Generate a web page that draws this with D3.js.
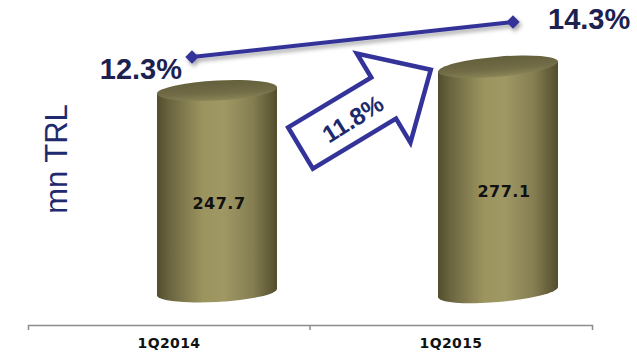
<!DOCTYPE html>
<html>
<head>
<meta charset="utf-8">
<script src="https://cdn.jsdelivr.net/npm/d3@7"></script>
<style>
  html, body { margin: 0; padding: 0; background: #ffffff; }
  svg { display: block; }
</style>
</head>
<body>
<svg id="chart" width="637" height="355"></svg>
<script>
// Quarterly figures
const categories = ["1Q2014", "1Q2015"];
const revenue = [247.7, 277.1];      // mn TRL (cylinders)
const share = [12.3, 14.3];          // % (line, secondary scale)
const growthText = "11.8%";
const axisTitle = "mn TRL";

const svg = d3.select("#chart");
const defs = svg.append("defs");

// ---- scales ----
const xAxisScale = d3.scaleBand().domain(categories).range([28, 592]);
const xBar = d3.scalePoint().domain(categories).range([217, 498]);
const xLine = d3.scalePoint().domain(categories).range([192, 513]);
const y = d3.scaleLinear().domain([0, 300]).range([292, 48]);
const y2 = d3.scaleLinear().domain([12, 15]).range([62.25, 9.75]);

// ---- gradients / filters ----
const sideGrad = defs.append("linearGradient").attr("id", "cylSide")
  .attr("x1", "0%").attr("x2", "100%").attr("y1", "0%").attr("y2", "0%");
[[0, "#524e2d"], [0.1, "#69643f"], [0.38, "#9c945f"], [0.55, "#a09864"],
 [0.8, "#857e52"], [1, "#524d2c"]].forEach(([o, c]) =>
  sideGrad.append("stop").attr("offset", o).attr("stop-color", c));

const capGrad = defs.append("linearGradient").attr("id", "cylTop")
  .attr("x1", "0%").attr("x2", "0%").attr("y1", "0%").attr("y2", "100%");
[[0, "#64603c"], [0.6, "#716b46"], [1, "#8a8457"]].forEach(([o, c]) =>
  capGrad.append("stop").attr("offset", o).attr("stop-color", c));

const shadow = defs.append("filter").attr("id", "shadow")
  .attr("x", "-20%").attr("y", "-50%").attr("width", "140%").attr("height", "250%");
shadow.append("feDropShadow").attr("dx", 2).attr("dy", 3)
  .attr("stdDeviation", 2).attr("flood-color", "#000").attr("flood-opacity", 0.35);

// ---- category axis ----
const axis = d3.axisBottom(xAxisScale).tickSizeInner(0).tickSizeOuter(5).tickPadding(13);
const axisG = svg.append("g").attr("transform", "translate(0,325)").call(axis);
axisG.select(".domain").attr("stroke", "#8c8c8c").attr("stroke-width", 1.5);
axisG.selectAll("text")
  .attr("font-family", "DejaVu Sans, Verdana, sans-serif")
  .attr("font-weight", "bold").attr("font-size", 14)
  .attr("letter-spacing", 0.4).attr("fill", "#111");
// divider tick between categories
axisG.append("line")
  .attr("x1", xAxisScale(categories[1])).attr("x2", xAxisScale(categories[1]))
  .attr("y1", 0).attr("y2", 5).attr("stroke", "#8c8c8c").attr("stroke-width", 1.5);

// ---- axis title ----
svg.append("text")
  .attr("transform", "translate(67,159) rotate(-90)")
  .attr("text-anchor", "middle")
  .attr("font-family", "Liberation Sans, Arial, sans-serif")
  .attr("font-size", 31).attr("fill", "#1f2a6e")
  .text(axisTitle);

// ---- cylinders ----
const rx = 60, ry = 10;
const cyl = svg.selectAll("g.cyl").data(revenue).join("g")
  .attr("class", "cyl")
  .attr("transform", (d, i) => `translate(${xBar(categories[i])},0) skewY(${-3 - 1.8 * i})`);

cyl.append("path")
  .attr("fill", "url(#cylSide)")
  .attr("d", d => {
    const yt = y(d), yb = y(0);
    return `M${-rx},${yt} L${-rx},${yb} A${rx},${ry} 0 0 0 ${rx},${yb} L${rx},${yt} Z`;
  });
cyl.append("ellipse")
  .attr("cx", 0).attr("cy", d => y(d))
  .attr("rx", rx).attr("ry", ry)
  .attr("fill", "url(#cylTop)");

// value labels inside the cylinders
svg.selectAll("text.val").data(revenue).join("text")
  .attr("class", "val")
  .attr("x", (d, i) => xBar(categories[i]) + 2 + 4 * i)
  .attr("y", d => (y(d) + y(0)) / 2 + 18)
  .attr("text-anchor", "middle")
  .attr("font-family", "DejaVu Sans, Verdana, sans-serif")
  .attr("font-weight", "bold").attr("font-size", 16)
  .attr("letter-spacing", 0.5)
  .attr("fill", "#111")
  .text(d => d.toFixed(1));

// ---- growth arrow ----
const sh = 24, sl = 97, hh = 52, hl = 55;
const arrow = svg.append("g").attr("transform", "translate(300.5,148) rotate(-31)");
arrow.append("polygon")
  .attr("points", [[0, -sh], [sl, -sh], [sl, -hh], [sl + hl, 0], [sl, hh], [sl, sh], [0, sh]]
    .map(p => p.join(",")).join(" "))
  .attr("fill", "#fff").attr("stroke", "#333399").attr("stroke-width", 4.5)
  .attr("stroke-linejoin", "miter");
arrow.append("text")
  .attr("x", 60).attr("y", 2).attr("dy", "0.35em")
  .attr("transform", "rotate(-1,60,2)")
  .attr("text-anchor", "middle")
  .attr("font-family", "Liberation Sans, Arial, sans-serif")
  .attr("font-weight", "bold").attr("font-size", 24)
  .attr("fill", "#1a2a6c")
  .text(growthText);

// ---- share line ----
const lineG = svg.append("g").attr("filter", "url(#shadow)");
lineG.append("path")
  .datum(share)
  .attr("fill", "none").attr("stroke", "#333399").attr("stroke-width", 4)
  .attr("d", d3.line().x((d, i) => xLine(categories[i])).y(d => y2(d)));
lineG.selectAll("path.mk").data(share).join("path")
  .attr("class", "mk")
  .attr("d", d3.symbol(d3.symbolSquare, 90))
  .attr("transform", (d, i) => `translate(${xLine(categories[i])},${y2(d)}) rotate(45)`)
  .attr("fill", "#333399");

svg.selectAll("text.pct").data(share).join("text")
  .attr("class", "pct")
  .attr("x", (d, i) => xLine(categories[i]) + (i === 0 ? -10 : 35))
  .attr("y", (d, i) => y2(d) + (i === 0 ? 22 : 7))
  .attr("text-anchor", (d, i) => i === 0 ? "end" : "start")
  .attr("font-family", "Liberation Sans, Arial, sans-serif")
  .attr("font-weight", "bold").attr("font-size", 29)
  .attr("fill", "#1c2150")
  .text(d => d.toFixed(1) + "%");
</script>
</body>
</html>
